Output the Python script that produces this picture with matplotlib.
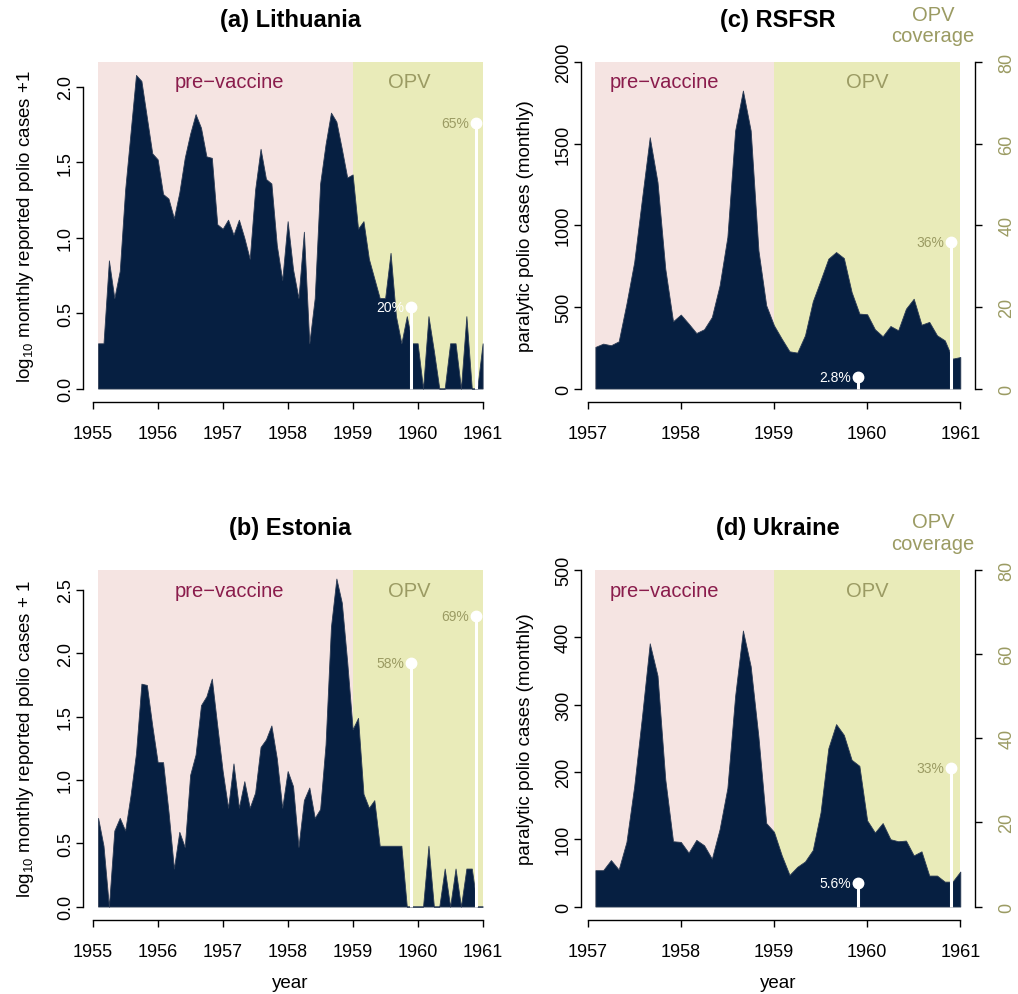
import matplotlib
matplotlib.use('Agg')
import matplotlib.pyplot as plt
import numpy as np

plt.rcParams['font.family'] = ['Liberation Sans', 'DejaVu Sans']
plt.rcParams['mathtext.fontset'] = 'custom'
plt.rcParams['mathtext.rm'] = 'Liberation Sans'
plt.rcParams['mathtext.default'] = 'regular'

# ── Data (monthly) ────────────────────────────────────────────────────
# log10(cases + 1), Feb 1955 .. Jan 1961
lithuania = [0.30, 0.30, 0.85, 0.60, 0.78, 1.32, 1.70, 2.08, 2.04, 1.80,
             1.56, 1.52, 1.29, 1.26, 1.13, 1.30, 1.53, 1.69, 1.82, 1.73,
             1.54, 1.53, 1.09, 1.06, 1.12, 1.02, 1.12, 1.00, 0.86, 1.32,
             1.59, 1.39, 1.36, 0.95, 0.72, 1.11, 0.79, 0.60, 1.04, 0.30,
             0.60, 1.36, 1.62, 1.83, 1.77, 1.59, 1.40, 1.42, 1.06, 1.11,
             0.86, 0.73, 0.60, 0.60, 0.90, 0.48, 0.30, 0.48, 0.30, 0.30,
             0.00, 0.48, 0.25, 0.00, 0.00, 0.30, 0.30, 0.00, 0.48, 0.00,
             0.00, 0.30]
estonia = [0.70, 0.48, 0.00, 0.60, 0.70, 0.60, 0.88, 1.21, 1.76, 1.75,
           1.43, 1.14, 1.14, 0.75, 0.30, 0.59, 0.47, 1.04, 1.20, 1.59,
           1.66, 1.80, 1.43, 1.07, 0.78, 1.13, 0.78, 0.99, 0.78, 0.90,
           1.26, 1.32, 1.43, 1.17, 0.78, 1.07, 0.95, 0.47, 0.84, 0.94,
           0.70, 0.77, 1.28, 2.21, 2.59, 2.40, 1.93, 1.40, 1.49, 0.89,
           0.78, 0.84, 0.48, 0.48, 0.48, 0.48, 0.48, 0.00, 0.00, 0.00,
           0.00, 0.48, 0.00, 0.00, 0.30, 0.00, 0.30, 0.00, 0.30, 0.30,
           0.00, 0.00]
# paralytic cases, Feb 1957 .. Jan 1961
rsfsr = [255, 275, 265, 289, 520, 775, 1162, 1539, 1264, 734,
         412, 453, 398, 340, 363, 438, 632, 928, 1580, 1825,
         1580, 846, 510, 387, 305, 228, 220, 326, 534, 663,
         795, 836, 799, 591, 459, 455, 363, 320, 383, 357,
         489, 550, 391, 408, 326, 295, 183, 193]
ukraine = [54, 54, 69, 55, 96, 179, 282, 391, 343, 189,
           97, 96, 80, 99, 91, 71, 115, 176, 313, 410,
           357, 252, 124, 111, 76, 47, 59, 67, 84, 140,
           235, 271, 255, 218, 209, 128, 110, 124, 100, 97,
           98, 76, 82, 46, 46, 37, 37, 52]

# OPV coverage (%) at end of 1959 and end of 1960
cov_years = [1959.9, 1960.9]
cov_lithuania = [20, 65]
cov_estonia = [58, 69]
cov_rsfsr = [2.8, 36]
cov_ukraine = [5.6, 33]

VACCINE_START = 1959
END = 1961

# ── Colours ───────────────────────────────────────────────────────────
NAVY = '#061f41'
PINK = '#f5e4e2'
YELL = '#e9ebb9'
MAGENTA = '#8a1c4c'
OLIVE = '#9b9b63'

W, H = 1018, 995
fig = plt.figure(figsize=(W / 100, H / 100), dpi=100, facecolor='white')


def px_rect(l, r, t, b):
    return [l / W, 1 - b / H, (r - l) / W, (b - t) / H]


def panel(rect, start, vals, ytop, yticks, ylabels, xticks, cov, title,
          ylabel, pre_x, opv_x, right_axis=False, xlabel=None):
    ax = fig.add_axes(rect)
    n = len(vals)
    x = start + np.arange(1, n + 1) / 12.0
    x0 = x[0]
    r = END - x0
    ax.set_xlim(x0 - 0.04 * r, END + 0.04 * r)
    ax.set_ylim(-0.04 * ytop, 1.04 * ytop)

    # period backgrounds
    ax.fill_between([x0, VACCINE_START], 0, ytop, color=PINK, lw=0, zorder=0)
    ax.fill_between([VACCINE_START, END], 0, ytop, color=YELL, lw=0, zorder=0)
    ax.text(pre_x, 0.94 * ytop, 'pre\u2212vaccine', color=MAGENTA,
            fontsize=14.5, ha='center', va='center')
    ax.text(opv_x, 0.94 * ytop, 'OPV', color=OLIVE,
            fontsize=14.5, ha='center', va='center')

    # cases
    ax.fill_between(x, 0, vals, color=NAVY, edgecolor='#2c3c55', lw=0.6,
                    zorder=2)

    # coverage stems
    scale = ytop / 80.0
    for cx, cv in zip(cov_years, cov):
        cy = cv * scale
        ax.vlines(cx, 0, cy, color='white', lw=2.2, zorder=3)
        ax.plot(cx, cy, 'o', color='white', ms=7.5, zorder=4)
        ax.annotate(f'{cv:g}%', (cx, cy), xytext=(-5, 0),
                    textcoords='offset points', ha='right', va='center',
                    fontsize=10, color='white' if cv < 25 else OLIVE,
                    zorder=5)

    for s in ['top', 'right']:
        ax.spines[s].set_visible(False)
    ax.spines['left'].set_bounds(yticks[0], yticks[-1])
    ax.spines['bottom'].set_bounds(xticks[0], xticks[-1])
    for s in ['left', 'bottom']:
        ax.spines[s].set_linewidth(1.0)
    ax.set_xticks(xticks)
    ax.set_xticklabels([str(t) for t in xticks])
    ax.set_yticks(yticks)
    ax.set_yticklabels(ylabels, rotation=90, va='center')
    ax.tick_params(axis='x', length=4.8, width=1.0, pad=12, labelsize=13)
    ax.tick_params(axis='y', length=4.8, width=1.0, pad=1.5, labelsize=13)

    wpx = rect[2] * W
    hpx = rect[3] * H
    ax.set_ylabel(ylabel, fontsize=13.5)
    ax.yaxis.set_label_coords(-47 / wpx, 0.5)
    if xlabel:
        ax.set_xlabel(xlabel, fontsize=13.5)
        ax.xaxis.set_label_coords(0.5, -54 / hpx)
    ax.text(0.5, 1 + 29 / hpx, title, transform=ax.transAxes,
            ha='center', va='center', fontsize=17, fontweight='bold')

    if right_axis:
        ax2 = ax.twinx()
        lo, hi = ax.get_ylim()
        ax2.set_ylim(lo / scale, hi / scale)
        for s in ['top', 'left', 'bottom']:
            ax2.spines[s].set_visible(False)
        ax2.spines['right'].set_bounds(0, 80)
        ax2.spines['right'].set_linewidth(1.0)
        ax2.set_yticks([0, 20, 40, 60, 80])
        ax2.set_yticklabels(['0', '20', '40', '60', '80'],
                            rotation=90, va='center')
        ax2.tick_params(axis='y', length=4.8, width=1.0, pad=12,
                        labelsize=13, labelcolor=OLIVE)
        ax.annotate('OPV\ncoverage', xy=(1, 1), xycoords='axes fraction',
                    xytext=(-42, 24), textcoords='offset pixels',
                    ha='center', va='center', fontsize=14.5, color=OLIVE,
                    linespacing=1.15)
    return ax


LEFT = (82.7, 498.0)
RIGHT = (580.8, 974.9)
TOP = (49.9, 402.6)
BOT = (557.5, 921.0)

lab_a = 'log$_{10}$ monthly reported polio cases +1'
lab_b = 'log$_{10}$ monthly reported polio cases + 1'
lab_c = 'paralytic polio cases (monthly)'

yt_a = [0, 0.5, 1.0, 1.5, 2.0]
yt_b = [0, 0.5, 1.0, 1.5, 2.0, 2.5]
yt_c = [0, 500, 1000, 1500, 2000]
yt_d = [0, 100, 200, 300, 400, 500]
xt_ab = list(range(1955, 1962))
xt_cd = list(range(1957, 1962))

panel(px_rect(*LEFT, *TOP), 1955, lithuania, 2.166, yt_a,
      [f'{v:.1f}' for v in yt_a], xt_ab, cov_lithuania, '(a) Lithuania',
      lab_a, 1957.1, 1959.87)
panel(px_rect(*LEFT, *BOT), 1955, estonia, 2.658, yt_b,
      [f'{v:.1f}' for v in yt_b], xt_ab, cov_estonia, '(b) Estonia',
      lab_b, 1957.1, 1959.87, xlabel='year')
panel(px_rect(*RIGHT, *TOP), 1957, rsfsr, 2000, yt_c,
      [str(v) for v in yt_c], xt_cd, cov_rsfsr, '(c) RSFSR',
      lab_c, 1957.82, 1960.0, right_axis=True)
panel(px_rect(*RIGHT, *BOT), 1957, ukraine, 500, yt_d,
      [str(v) for v in yt_d], xt_cd, cov_ukraine, '(d) Ukraine',
      lab_c, 1957.82, 1960.0, right_axis=True, xlabel='year')

fig.savefig('out.png', dpi=100, facecolor='white')
